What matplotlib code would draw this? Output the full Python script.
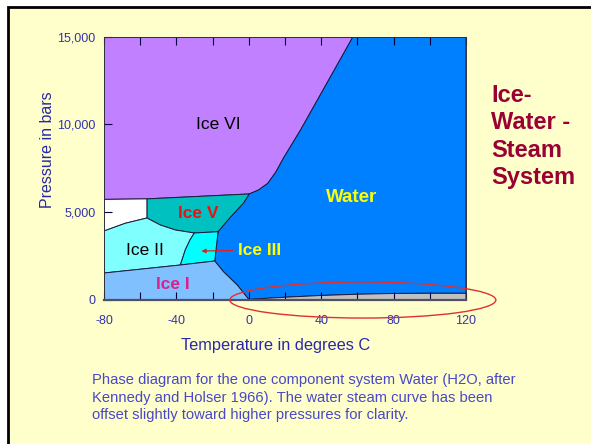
import numpy as np
import matplotlib
matplotlib.use("Agg")
import matplotlib.pyplot as plt
from matplotlib.patches import Rectangle, Ellipse

plt.rcParams['font.family'] = ['Liberation Sans', 'DejaVu Sans']
plt.rcParams['axes.unicode_minus'] = False

# phase boundaries, temperature (C) and pressure (bars)
vi_bottom_T = [-80, -56.3, 0.2]
vi_bottom_P = [5720, 5750, 6030]
vi_water_T = [0.2, 5.4, 10.4, 14.8, 19.2, 28.6, 57.5]
vi_water_P = [6030, 6257, 6628, 7257, 8085, 9685, 15000]
ii_top_T = [-80, -68.3, -56.3]
ii_top_P = [3914, 4354, 4657]
v_bottom_T = [-56.3, -48.9, -40.6, -30.1]
v_bottom_P = [4657, 4257, 3971, 3800]
iii_top_T = [-30.1, -17]
iii_top_P = [3800, 3874]
v_water_T = [-17, -10.1, -2.9, 0.2]
v_water_P = [3874, 4714, 5514, 6030]
iii_left_T = [-37.8, -35.1, -32.5, -30.1]
iii_left_P = [1971, 2830, 3400, 3800]
iii_right_T = [-17, -18.8]
iii_right_P = [3874, 2200]
i_top_T = [-80, -37.8, -18.8]
i_top_P = [1514, 1971, 2200]
i_water_T = [-18.8, -14, -6.4, 0]
i_water_P = [2200, 1588, 829, 0]
vapor_T = [0, 10, 20, 40, 60, 80, 100, 120]
vapor_P = [0, 70, 130, 230, 300, 345, 355, 355]

x_ticks = [-80, -40, 0, 40, 80, 120]
y_ticks = [0, 5000, 10000, 15000]
y_labels = ['0', '5,000', '10,000', '15,000']

T_MIN, T_MAX = -80, 120
P_MIN, P_MAX = 0, 15000

colors = {
    'vi': '#C080FF', 'water': '#0080FF', 'v': '#00C0C0', 'iii': '#00FFFF',
    'ii': '#80FFFF', 'i': '#80C0FF', 'steam': '#C0C0C0', 'white': '#FFFFFF',
}


def poly(*parts):
    T, P = [], []
    for t, p in parts:
        T += list(t)
        P += list(p)
    return T, P


def rev(t, p):
    return t[::-1], p[::-1]


regions = {
    'vi': poly(([T_MIN], [P_MAX]), (vi_bottom_T, vi_bottom_P), (vi_water_T, vi_water_P)),
    'water': poly((vi_water_T, vi_water_P), ([T_MAX], [P_MAX]), rev(vapor_T, vapor_P),
                  rev(i_water_T, i_water_P), rev(iii_right_T, iii_right_P),
                  (v_water_T, v_water_P)),
    'steam': poly((vapor_T, vapor_P), ([T_MAX], [P_MIN])),
    'v': poly((v_bottom_T, v_bottom_P), (iii_top_T, iii_top_P), (v_water_T, v_water_P),
              rev(vi_bottom_T[1:], vi_bottom_P[1:])),
    'white': poly((vi_bottom_T[:2], vi_bottom_P[:2]), rev(ii_top_T, ii_top_P)),
    'ii': poly((ii_top_T, ii_top_P), (v_bottom_T, v_bottom_P), rev(iii_left_T, iii_left_P),
               rev(i_top_T[:2], i_top_P[:2])),
    'iii': poly((iii_left_T, iii_left_P), (iii_top_T, iii_top_P), (iii_right_T, iii_right_P)),
    'i': poly((i_top_T, i_top_P), (i_water_T, i_water_P), ([T_MIN], [P_MIN])),
}

fig = plt.figure(figsize=(5.91, 4.44), dpi=100)
fig.patch.set_facecolor('white')
fig.patches.append(Rectangle((7.5 / 591, -0.1), 1.1, (444 - 7.5) / 444 + 0.1,
                             transform=fig.transFigure, facecolor='#FFFFCC',
                             edgecolor='black', linewidth=2.0, zorder=-10))

ax = fig.add_axes([104 / 591, (444 - 299.5) / 444, 362 / 591, 262.5 / 444])
ax.set_zorder(2)
for key, (T, P) in regions.items():
    ax.fill(T, P, facecolor=colors[key], edgecolor='#1A1A3A', linewidth=0.7)

ax.set_xlim(T_MIN, T_MAX)
ax.set_ylim(P_MIN, P_MAX)
ax.set_xticks(x_ticks)
ax.set_xticks(np.arange(T_MIN, T_MAX + 1, 20), minor=True)
ax.set_yticks(y_ticks)
ax.set_yticklabels(y_labels)
ax.tick_params(axis='x', which='both', direction='in', top=True, length=6, width=0.8,
               color='#000040', pad=11.5, labelsize=9, labelcolor='#3333AA')
ax.tick_params(axis='y', direction='in', length=6, width=0.8, color='#000040',
               pad=6, labelsize=9, labelcolor='#3333AA')
for s in ['top', 'left', 'right']:
    ax.spines[s].set_color('#303040')
    ax.spines[s].set_linewidth(0.7)
ax.spines['bottom'].set_color('#505060')
ax.spines['bottom'].set_linewidth(1.6)

ax.set_xlabel('Temperature in degrees C', fontsize=11.8, color='#2828A8')
ax.set_ylabel('Pressure in bars', fontsize=11.5, color='#2828A8')
ax.xaxis.set_label_coords(0.475, -0.148)
ax.yaxis.set_label_coords(-0.134, 0.572)

ax.text(-16.8, 10028, 'Ice VI', fontsize=12.5, color='black', ha='center', va='center')
ax.text(56.9, 5800, 'Water', fontsize=13.5, color='#FFFF00', fontweight='bold',
        ha='center', va='center')
ax.text(-27.9, 4886, 'Ice V', fontsize=12.5, color='#EE1111', fontweight='bold',
        ha='center', va='center')
ax.text(-57.2, 2828, 'Ice II', fontsize=12.5, color='black', ha='center', va='center')
ax.text(-41.8, 829, 'Ice I', fontsize=12.5, color='#E0208A', fontweight='bold',
        ha='center', va='center')
ax.annotate('Ice III', xy=(-26.2, 2770), xytext=(6.2, 2828), fontsize=12.5,
            color='#FFFF00', fontweight='bold', ha='center', va='center',
            arrowprops=dict(arrowstyle='-|>', color='#E02020', lw=0.9,
                            mutation_scale=6, shrinkA=2, shrinkB=0))

ax.add_patch(Ellipse((63, -30), 147, 2060, facecolor='none', edgecolor='#E03030',
                     linewidth=1.0, clip_on=False, zorder=5))

fig.text(491 / 591, 1 - 84 / 444, 'Ice-\nWater -\nSteam\nSystem', fontsize=17,
         fontweight='bold', color='#990033', ha='left', va='top', linespacing=1.24)

fig.text(92 / 591, 1 - 373 / 444,
         'Phase diagram for the one component system Water (H2O, after\n'
         'Kennedy and Holser 1966). The water steam curve has been\n'
         'offset slightly toward higher pressures for clarity.',
         fontsize=10.6, color='#4848C8', ha='left', va='top', linespacing=1.32)

fig.savefig('out.png', dpi=100)
